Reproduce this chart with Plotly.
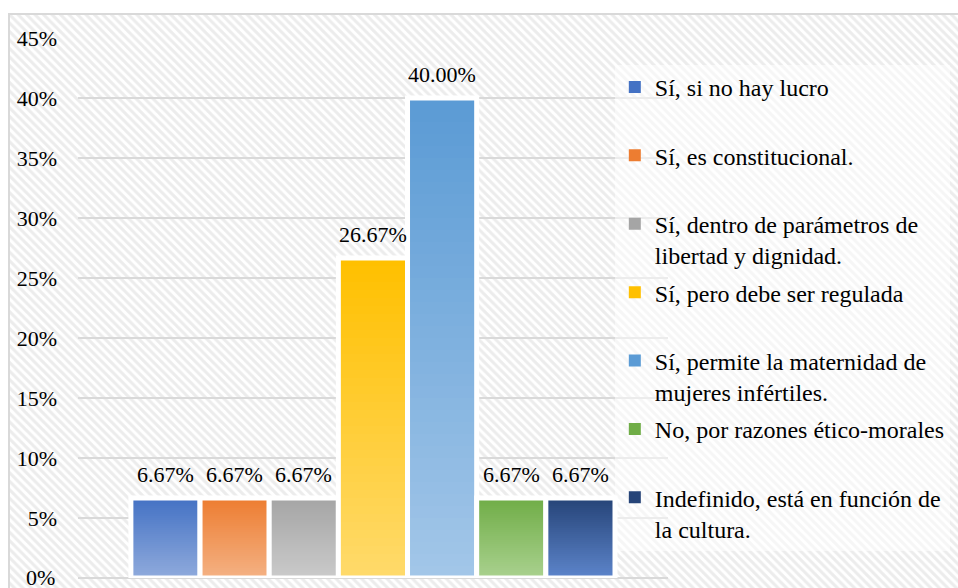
import plotly.graph_objects as go

# Encuesta: respuestas (porcentaje)
categorias = [
    "Sí, si no hay lucro",
    "Sí, es constitucional.",
    "Sí, dentro de parámetros de<br>libertad y dignidad.",
    "Sí, pero debe ser regulada",
    "Sí, permite la maternidad de<br>mujeres infértiles.",
    "No, por razones ético-morales",
    "Indefinido, está en función de<br>la cultura.",
]
valores = [6.67, 6.67, 6.67, 26.67, 40.00, 6.67, 6.67]
ticks_y = [0, 5, 10, 15, 20, 25, 30, 35, 40, 45]

color_arriba = ["#4472C4", "#ED7D31", "#A5A5A5", "#FFC000", "#5B9BD5", "#70AD47", "#264478"]
color_abajo = ["#8FAADC", "#F4B183", "#CACACA", "#FFDA6A", "#A2C6E8", "#A9D18E", "#5C84CA"]

FONT = "Liberation Serif"
N = 40  # tramos del degradado


def hex2rgb(h):
    h = h.lstrip("#")
    return [int(h[i:i + 2], 16) for i in (0, 2, 4)]


def mezcla(c1, c2, t):
    a, b = hex2rgb(c1), hex2rgb(c2)
    return "rgb(%d,%d,%d)" % tuple(round(a[j] + (b[j] - a[j]) * t) for j in range(3))


fig = go.Figure()

# fondo rayado de todo el grafico
fig.add_trace(go.Bar(
    x=[0.5], y=[1], width=[1], xaxis="x", yaxis="y",
    marker=dict(color="white", line=dict(width=0),
                pattern=dict(shape="\\", fgcolor="#d9d9d9", bgcolor="white", size=6, solidity=0.5)),
    showlegend=False, hoverinfo="skip",
))

for i, (nombre, v) in enumerate(zip(categorias, valores)):
    etiqueta = nombre if "<br>" in nombre else nombre + "<br> "
    # barras superpuestas, cada una mas baja y mas clara -> degradado sin costuras
    alturas = [v * (N - k) / N for k in range(N)]
    colores = [mezcla(color_arriba[i], color_abajo[i], k / (N - 1)) for k in range(N)]
    fig.add_trace(go.Bar(
        x=[i] * N, y=alturas, width=1,
        xaxis="x2", yaxis="y2",
        marker=dict(color=colores, line=dict(width=0)),
        name=etiqueta, legendgroup="g%d" % i, hoverinfo="skip",
    ))
    # contorno blanco
    fig.add_trace(go.Bar(
        x=[i], y=[v], width=1, xaxis="x2", yaxis="y2",
        marker=dict(color="rgba(0,0,0,0)", line=dict(color="white", width=5)),
        showlegend=False, legendgroup="g%d" % i, hoverinfo="skip",
    ))
    fig.add_annotation(
        x=i, y=v, xref="x2", yref="y2", text="%.2f%%" % v,
        showarrow=False, yanchor="bottom", yshift=9,
        font=dict(family=FONT, size=22, color="#000000"),
    )

# la etiqueta 0% se sale un poco del div y plotly la oculta: va como anotacion
fig.add_annotation(
    x=0, y=ticks_y[0], xref="x2 domain", yref="y2", text="%d%%" % ticks_y[0],
    showarrow=False, xanchor="right", yanchor="middle", xshift=-21,
    font=dict(family=FONT, size=22, color="#000000"),
)

fig.update_layout(
    width=958, height=588,
    margin=dict(l=10, r=0, t=15, b=0),
    paper_bgcolor="white",
    plot_bgcolor="rgba(0,0,0,0)",
    barmode="overlay",
    font=dict(family=FONT, size=22, color="#000000"),
    xaxis=dict(domain=[0, 1], range=[0, 1], side="top", showline=True, linecolor="#d9d9d9",
               linewidth=1.5, showgrid=False, zeroline=False, showticklabels=False, fixedrange=True),
    yaxis=dict(domain=[0, 1], range=[0, 1], showline=True, linecolor="#d9d9d9",
               linewidth=1.5, showgrid=False, zeroline=False, showticklabels=False, fixedrange=True),
    xaxis2=dict(domain=[0.0717, 0.694], range=[-1.265, 7.265], anchor="y2",
                showgrid=False, zeroline=False, showticklabels=False, showline=False),
    yaxis2=dict(domain=[0.01745, 0.9599], range=[0, 45], anchor="x2",
                tickvals=ticks_y[1:], ticktext=["%d%%" % t for t in ticks_y[1:]],
                showgrid=True, gridcolor="#d9d9d9", gridwidth=1.5,
                zeroline=True, zerolinecolor="#d9d9d9", zerolinewidth=1.5,
                showline=False, ticklabelstandoff=20,
                tickfont=dict(family=FONT, size=22, color="#000000")),
    legend=dict(x=0.638, y=0.913, xanchor="left", yanchor="top",
                bgcolor="rgba(255,255,255,0.5)", borderwidth=0,
                tracegroupgap=3, valign="top", itemwidth=30,
                font=dict(family=FONT, size=24, color="#000000")),
    showlegend=True,
)

# sin el margen del body la figura ocupa justo la ventana
fig.write_html("out.html", config={"displayModeBar": False},
               post_script="document.body.style.margin='0';")
